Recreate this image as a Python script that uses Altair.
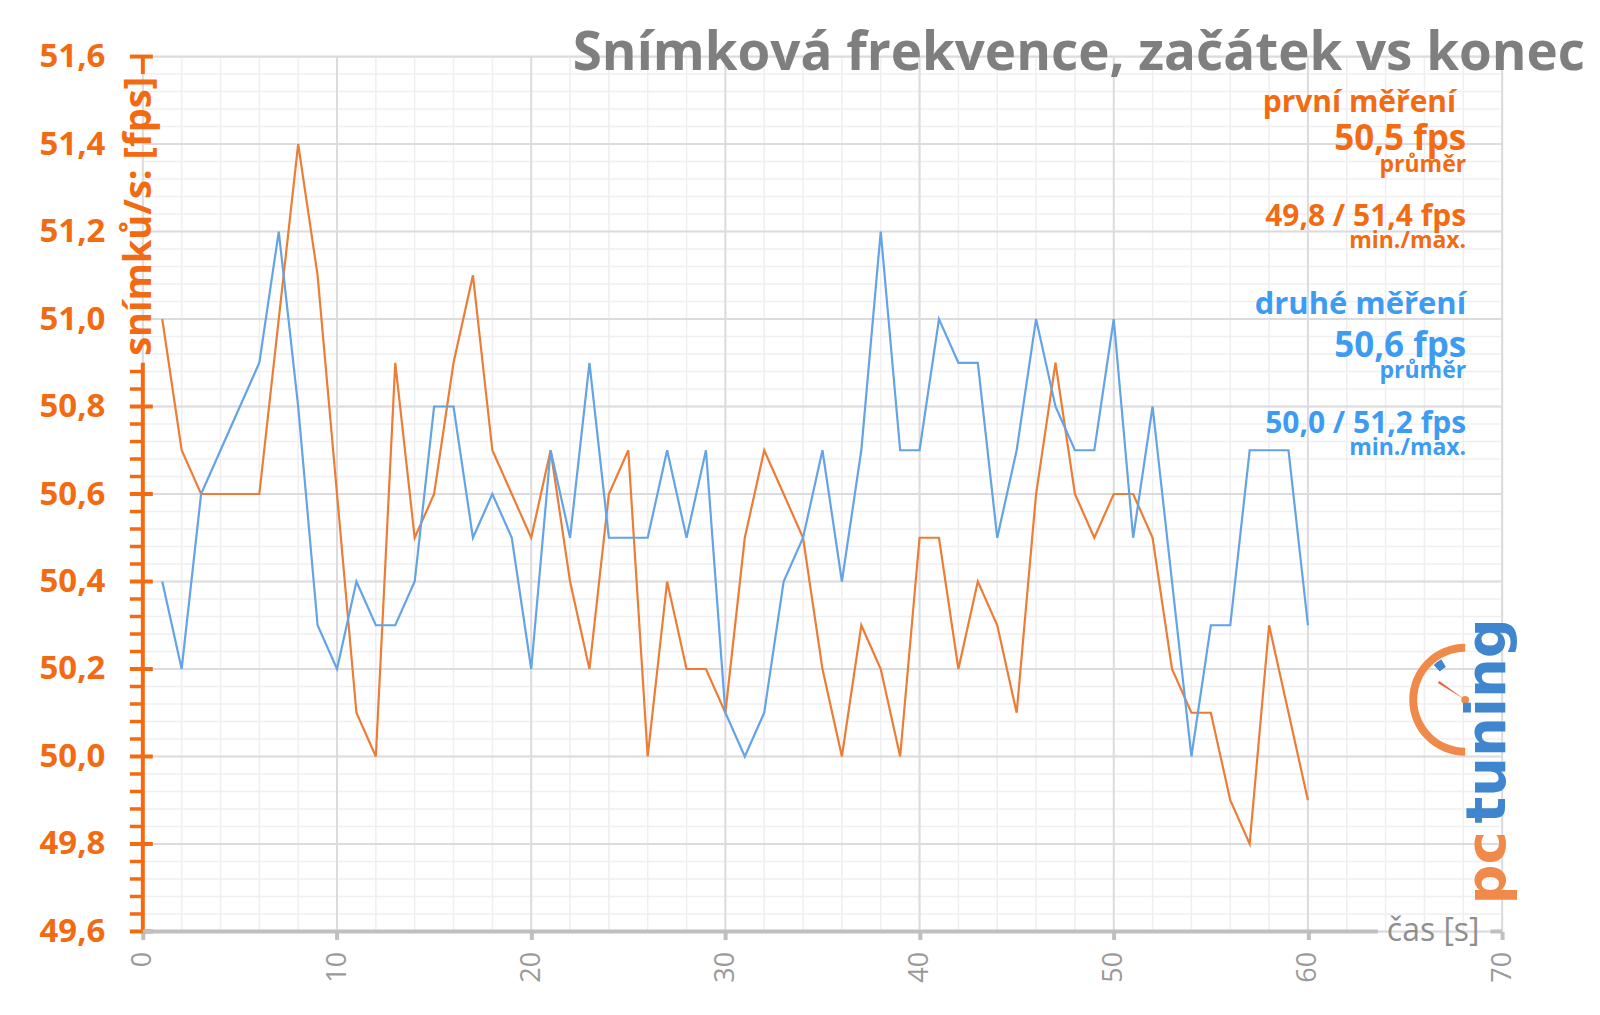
import altair as alt
import pandas as pd
import numpy as np

# ---------------- data ----------------
seconds = list(range(1, 61))
first_run = [51.0, 50.7, 50.6, 50.6, 50.6, 50.6, 51.0, 51.4, 51.1, 50.6,
             50.1, 50.0, 50.9, 50.5, 50.6, 50.9, 51.1, 50.7, 50.6, 50.5,
             50.7, 50.4, 50.2, 50.6, 50.7, 50.0, 50.4, 50.2, 50.2, 50.1,
             50.5, 50.7, 50.6, 50.5, 50.2, 50.0, 50.3, 50.2, 50.0, 50.5,
             50.5, 50.2, 50.4, 50.3, 50.1, 50.6, 50.9, 50.6, 50.5, 50.6,
             50.6, 50.5, 50.2, 50.1, 50.1, 49.9, 49.8, 50.3, 50.1, 49.9]
second_run = [50.4, 50.2, 50.6, 50.7, 50.8, 50.9, 51.2, 50.8, 50.3, 50.2,
              50.4, 50.3, 50.3, 50.4, 50.8, 50.8, 50.5, 50.6, 50.5, 50.2,
              50.7, 50.5, 50.9, 50.5, 50.5, 50.5, 50.7, 50.5, 50.7, 50.1,
              50.0, 50.1, 50.4, 50.5, 50.7, 50.4, 50.7, 51.2, 50.7, 50.7,
              51.0, 50.9, 50.9, 50.5, 50.7, 51.0, 50.8, 50.7, 50.7, 51.0,
              50.5, 50.8, 50.4, 50.0, 50.3, 50.3, 50.7, 50.7, 50.7, 50.3]
series_names = ["první měření", "druhé měření"]

x_ticks = [0, 10, 20, 30, 40, 50, 60, 70]
y_ticks = [49.6, 49.8, 50.0, 50.2, 50.4, 50.6, 50.8, 51.0, 51.2, 51.4, 51.6]

title_text = "Snímková frekvence, začátek vs konec"
y_title = "snímků/s: [fps]"
x_title = "čas [s]"

# ---------------- styles ----------------
ORANGE = "#F26B12"
BLUE = "#3D9CF2"
LINE_OR = "#EC7D36"
LINE_BL = "#63A3E6"
GRID_MAJ = "#dcdce0"
GRID_MIN = "#efeff1"
AX_GRAY = "#bfbfbf"
FONT = "Open Sans"

W, H = 1361, 876
xs = alt.Scale(domain=[0, 70], nice=False)
ys = alt.Scale(domain=[49.6, 51.6], nice=False, zero=False)

XAX = alt.Axis(
    values=x_ticks, grid=False, domain=False, ticks=True, tickColor=AX_GRAY,
    tickWidth=4, tickSize=8, labelAngle=270, labelFontSize=27, labelColor="#9a9a9a",
    labelFont=FONT, labelPadding=12, title=None, labelFlush=False, labelOverlap=False)
YAX = alt.Axis(
    values=y_ticks, grid=False, domain=False, ticks=False,
    labelExpr="replace(format(datum.value, '.1f'), '.', ',')",
    labelFontSize=33, labelFontWeight="bold", labelColor=ORANGE, labelFont=FONT,
    labelPadding=38, title=None, labelFlush=False, labelOverlap=False)

minor_y = [round(49.6 + 0.04 * i, 2) for i in range(51)]
minor_x = list(range(0, 71, 2))

df = pd.DataFrame({
    "t": seconds * 2,
    "fps": first_run + second_run,
    "series": [series_names[0]] * 60 + [series_names[1]] * 60,
})

def Y(f):
    return alt.Y(f, scale=ys, axis=YAX)

def X(f):
    return alt.X(f, scale=xs, axis=XAX)

# grid
hmin = alt.Chart(pd.DataFrame({"v": minor_y})).mark_rule(color=GRID_MIN, strokeWidth=1.5).encode(
    y=Y("v:Q"), x=alt.value(0), x2=alt.value(W))
vmin = alt.Chart(pd.DataFrame({"v": minor_x})).mark_rule(color=GRID_MIN, strokeWidth=1.5).encode(
    x=X("v:Q"), y=alt.value(0), y2=alt.value(H))
hmaj = alt.Chart(pd.DataFrame({"v": y_ticks})).mark_rule(color=GRID_MAJ, strokeWidth=2).encode(
    y=Y("v:Q"), x=alt.value(0), x2=alt.value(W))
vmaj = alt.Chart(pd.DataFrame({"v": x_ticks})).mark_rule(color=GRID_MAJ, strokeWidth=2).encode(
    x=X("v:Q"), y=alt.value(0), y2=alt.value(H))

# series lines
lines = alt.Chart(df).mark_line(strokeWidth=2.2).encode(
    x=X("t:Q"),
    y=Y("fps:Q"),
    color=alt.Color("series:N", scale=alt.Scale(domain=series_names, range=[LINE_OR, LINE_BL]), legend=None),
    order=alt.Order("t:Q"),
)

# y axis line (broken where the title sits)
yseg = alt.Chart(pd.DataFrame({"a": [49.6, 51.56], "b": [50.9, 51.6]})).mark_rule(
    color=ORANGE, strokeWidth=4).encode(
    x=alt.value(0), y=Y("a:Q"), y2="b:Q")
maj_vis = [v for v in y_ticks if v <= 50.9 or v >= 51.6]
min_vis = [v for v in minor_y if (v <= 50.9 or v >= 51.6) and v not in maj_vis]
ymaj = alt.Chart(pd.DataFrame({"v": maj_vis})).mark_rule(color=ORANGE, strokeWidth=4).encode(
    y=Y("v:Q"), x=alt.value(-13), x2=alt.value(10))
ymin = alt.Chart(pd.DataFrame({"v": min_vis})).mark_rule(color=ORANGE, strokeWidth=3.5).encode(
    y=Y("v:Q"), x=alt.value(-13), x2=alt.value(0))

# x axis line (broken where the title sits)
xseg = alt.Chart(pd.DataFrame({"a": [0, 69.4], "b": [63.6, 70]})).mark_rule(
    color=AX_GRAY, strokeWidth=4).encode(
    y=alt.value(H), x=X("a:Q"), x2="b:Q")

one = pd.DataFrame({"k": [0]})

def txt(text, x, y, size, color, align="right", weight="bold", angle=0, baseline="alphabetic", font=FONT):
    return alt.Chart(one).mark_text(
        text=text, align=align, baseline=baseline, fontSize=size, fontWeight=weight,
        color=color, font=font, angle=angle).encode(x=alt.value(x), y=alt.value(y))

title = txt(title_text, 1444, 13, 53, "#7f7f7f")
ytitle = txt(y_title, -3, 160, 38, ORANGE, align="center", angle=270, baseline="middle")
xtitle = txt(x_title, 1292, H, 32, "#8f8f8f", align="center", weight="normal", baseline="middle")

ann = [
    txt("první měření", 1315, 56, 30, ORANGE),
    txt("50,5 fps", 1325, 94, 35, ORANGE),
    txt("průměr", 1325, 116, 23, ORANGE),
    txt("49,8 / 51,4 fps", 1325, 170, 30, ORANGE),
    txt("min./max.", 1325, 192, 23, ORANGE),
    txt("druhé měření", 1325, 258, 31, BLUE),
    txt("50,6 fps", 1325, 301, 35, BLUE),
    txt("průměr", 1325, 322, 23, BLUE),
    txt("50,0 / 51,2 fps", 1325, 377, 30, BLUE),
    txt("min./max.", 1325, 399, 23, BLUE),
]

# logo
LOGO_OR = "#F08A4B"
LOGO_BL = "#3F86CF"
logo_pc = txt("pc", 1364, 849, 56, LOGO_OR, align="left", angle=270, font="DejaVu Sans")
logo_tu = txt("tuning", 1364, 768, 56, LOGO_BL, align="left", angle=270, font="DejaVu Sans")
arc = alt.Chart(one).mark_arc(theta=np.pi, theta2=2 * np.pi, radius=56, radius2=48, color=LOGO_OR).encode(
    x=alt.value(1324), y=alt.value(644))
arc_blue = alt.Chart(one).mark_arc(theta=5.55, theta2=5.75, radius=47, radius2=38, color=LOGO_BL).encode(
    x=alt.value(1324), y=alt.value(644))
needle = alt.Chart(one).mark_arc(theta=5.26, theta2=5.34, radius=32, radius2=0, color="#E8603C").encode(
    x=alt.value(1324), y=alt.value(644))
hub = alt.Chart(one).mark_point(filled=True, size=60, color=LOGO_OR, opacity=1).encode(
    x=alt.value(1324), y=alt.value(644))

chart = alt.layer(
    hmin, vmin, hmaj, vmaj, lines, yseg, ymaj, ymin, xseg,
    arc, arc_blue, needle, hub, logo_pc, logo_tu,
    title, ytitle, xtitle, *ann
).properties(
    width=W, height=H,
    padding={"left": 135, "top": 48, "right": 90, "bottom": 70},
    autosize=alt.AutoSizeParams(type="none"),
).configure_view(stroke=None).configure(background="white")

chart.save("out.html", embed_options={"renderer": "svg", "actions": False})
